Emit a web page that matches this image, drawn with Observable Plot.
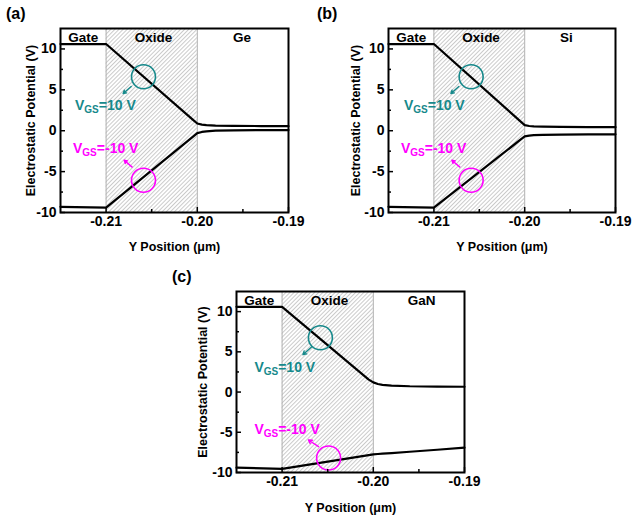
<!DOCTYPE html>
<html>
<head>
<meta charset="utf-8">
<script src="https://cdn.jsdelivr.net/npm/d3@7"></script>
<script src="https://cdn.jsdelivr.net/npm/@observablehq/plot@0.6"></script>
<style>
  body { margin: 0; background: #fff; font-family: "Liberation Sans", Arial, sans-serif; }
  #wrap { position: relative; width: 644px; height: 518px; overflow: hidden; }
  .panel { position: absolute; }
  .tag { position: absolute; font-weight: bold; font-size: 16px; line-height: 16px; color: #000; }
</style>
</head>
<body>
<svg width="0" height="0" style="position:absolute">
  <defs>
    <pattern id="hatch" patternUnits="userSpaceOnUse" width="2.9" height="10" patternTransform="rotate(45)">
      <line x1="0.5" y1="0" x2="0.5" y2="10" stroke="#b8b8b8" stroke-width="0.75"/>
    </pattern>
  </defs>
</svg>
<div id="wrap"></div>
<script>
// ---- data ----
const yPos = [-0.215, -0.21, -0.2005, -0.2, -0.1995, -0.199, -0.198, -0.196, -0.193, -0.19];
const geOn  = [10.6, 10.6, 1.35, 0.88, 0.75, 0.68, 0.63, 0.60, 0.57, 0.55];
const geOff = [-9.3, -9.4, -0.75, -0.30, -0.15, -0.07, 0.0, 0.05, 0.07, 0.08];
const siOn  = [10.6, 10.6, 1.18, 0.68, 0.58, 0.53, 0.50, 0.47, 0.45, 0.44];
const siOff = [-9.3, -9.4, -1.13, -0.70, -0.60, -0.55, -0.50, -0.47, -0.45, -0.44];
const ganOn  = [10.6, 10.6, 1.55, 1.20, 1.00, 0.90, 0.80, 0.72, 0.68, 0.66];
const ganOff = [-9.4, -9.55, -7.83, -7.74, -7.70, -7.66, -7.58, -7.42, -7.17, -6.90];

const panels = ["(a)", "(b)", "(c)"];
const materials = ["Ge", "Si", "GaN"];
const regionNames = ["Gate", "Oxide"];
const regionX = [-0.2125, -0.2048];
const materialX = [-0.1951, -0.1954, -0.1947];
const oxideBounds = [-0.21, -0.2];
const xTicks = [-0.21, -0.2, -0.19];
const xMinor = [-0.205, -0.195];
const yTicks = [-10, -5, 0, 5, 10];
const yMinor = [-7.5, -2.5, 2.5, 7.5];
const vgsLabels = ["VGS=10 V", "VGS=-10 V"];
// circle markers (x, y) per panel: [on, off]
const circleX = [[-0.2059, -0.2059], [-0.2059, -0.2059], [-0.2058, -0.2049]];
const circleY = [[6.6, -6.06], [6.6, -6.06], [6.75, -8.2]];
// arrows: [x1, y1, x2, y2] per panel: [on, off]
const arrowOn  = [[-0.20725, 5.4, -0.20813, 4.55], [-0.20725, 5.4, -0.20813, 4.55], [-0.20674, 5.64, -0.20772, 4.65]];
const arrowOff = [[-0.20714, -4.45, -0.20802, -3.6], [-0.20714, -4.45, -0.20802, -3.6], [-0.2060, -6.79, -0.20711, -5.96]];
// label anchors (start x, middle y) per panel: [on, off]
const labelX = [[-0.21341, -0.21363], [-0.2133, -0.21363], [-0.21304, -0.21304]];
const labelY = [[3.09, -2.16], [3.09, -2.16], [3.05, -4.6]];

const teal = "#16898b";
const magenta = "#ff00ff";

const layout = [
  {left: 0,   top: 0,   width: 320, height: 260, ml: 60, mr: 32, mt: 28, mb: 48, ty: -30, tx: 34, tagL: 6,   tagT: 6},
  {left: 320, top: 0,   width: 324, height: 260, ml: 68, mr: 29, mt: 28, mb: 48, ty: -33, tx: 34, tagL: -3,  tagT: 6},
  {left: 170, top: 260, width: 320, height: 258, ml: 66, mr: 26, mt: 31, mb: 46, ty: -34, tx: 35, tagL: 2,   tagT: 9}
];

const wrap = document.getElementById("wrap");
const seriesOn = [geOn, siOn, ganOn];
const seriesOff = [geOff, siOff, ganOff];

panels.forEach((tag, i) => {
  const L = layout[i];
  const lineData = [
    ...yPos.map((x, j) => ({x, v: seriesOn[i][j], s: "on"})),
    ...yPos.map((x, j) => ({x, v: seriesOff[i][j], s: "off"}))
  ];
  const circles = [0, 1].map(k => ({x: circleX[i][k], y: circleY[i][k], c: k === 0 ? teal : magenta}));
  const arrows = [arrowOn[i], arrowOff[i]].map((a, k) => ({x1: a[0], y1: a[1], x2: a[2], y2: a[3], c: k === 0 ? teal : magenta}));
  const labels = [0, 1].map(k => ({x: labelX[i][k], y: labelY[i][k], t: vgsLabels[k], c: k === 0 ? teal : magenta}));
  const regions = [
    {x: regionX[0], t: regionNames[0]},
    {x: regionX[1], t: regionNames[1]},
    {x: materialX[i], t: materials[i]}
  ];
  const fmtX = d => d.toFixed(2);
  const fmtY = d => String(d);

  const chart = Plot.plot({
    width: L.width, height: L.height,
    marginLeft: L.ml, marginRight: L.mr, marginTop: L.mt, marginBottom: L.mb,
    x: {domain: [-0.215, -0.19]},
    y: {domain: [-10, 12.5]},
    style: {fontFamily: '"Liberation Sans", Arial, sans-serif', fontWeight: "bold", fontSize: "13px", color: "#000", background: "transparent", overflow: "visible"},
    marks: [
      Plot.rect([0], {x1: oxideBounds[0], x2: oxideBounds[1], y1: -10, y2: 12.5, fill: "url(#hatch)"}),
      Plot.ruleX(oxideBounds, {stroke: "#b0b0b0", strokeWidth: 1}),
      Plot.line(lineData, {x: "x", y: "v", z: "s", stroke: "#000", strokeWidth: 2.2}),
      Plot.dot(circles, {x: "x", y: "y", r: 12, stroke: "c", strokeWidth: 1.6, fill: "none"}),
      Plot.arrow(arrows, {x1: "x1", y1: "y1", x2: "x2", y2: "y2", stroke: "c", strokeWidth: 1.4, headLength: 5}),
      Plot.text(labels, {x: "x", y: "y", text: "t", fill: "c", textAnchor: "start", fontSize: 14, fontWeight: "bold"}),
      Plot.text(regions, {x: "x", y: 11.35, text: "t", fill: "#000", fontSize: 13.5, fontWeight: "bold"}),
      Plot.axisX({ticks: xTicks, tickFormat: fmtX, tickSize: -5, tickPadding: 9, label: null, fontSize: 14, strokeWidth: 1.5}),
      Plot.axisX({ticks: xMinor, tickFormat: () => "", tickSize: -3, tickPadding: 0, label: null, strokeWidth: 1.5}),
      Plot.axisY({ticks: yTicks, tickFormat: fmtY, tickSize: -5, tickPadding: 9, label: null, fontSize: 14, strokeWidth: 1.5}),
      Plot.axisY({ticks: yMinor, tickFormat: () => "", tickSize: -3, tickPadding: 0, label: null, strokeWidth: 1.5}),
      Plot.text(["Electrostatic Potential (V)"], {frameAnchor: "left", dx: L.ty, rotate: -90, textAnchor: "middle", lineAnchor: "middle", fontSize: 12.5, fontWeight: "bold", fill: "#000"}),
      Plot.text(["Y Position (\u03bcm)"], {frameAnchor: "bottom", dy: L.tx, textAnchor: "middle", lineAnchor: "middle", fontSize: 12.5, fontWeight: "bold", fill: "#000"}),
      Plot.frame({stroke: "#000", strokeWidth: 2})
    ]
  });

  // subscript formatting for V_GS labels
  chart.querySelectorAll("text").forEach(t => {
    const s = t.textContent;
    if (s.startsWith("VGS")) {
      const rest = s.slice(3);
      t.textContent = "";
      const ns = "http://www.w3.org/2000/svg";
      const a = document.createElementNS(ns, "tspan"); a.textContent = "V";
      const b = document.createElementNS(ns, "tspan"); b.textContent = "GS";
      b.setAttribute("font-size", "10"); b.setAttribute("dy", "3");
      const c = document.createElementNS(ns, "tspan"); c.textContent = rest;
      c.setAttribute("dy", "-3");
      t.append(a, b, c);
    }
  });

  const holder = document.createElement("div");
  holder.className = "panel";
  holder.style.left = L.left + "px";
  holder.style.top = L.top + "px";
  holder.appendChild(chart);
  wrap.appendChild(holder);

  const tg = document.createElement("div");
  tg.className = "tag";
  tg.textContent = tag;
  tg.style.left = (L.left + L.tagL) + "px";
  tg.style.top = (L.top + L.tagT) + "px";
  wrap.appendChild(tg);
});
</script>
</body>
</html>
